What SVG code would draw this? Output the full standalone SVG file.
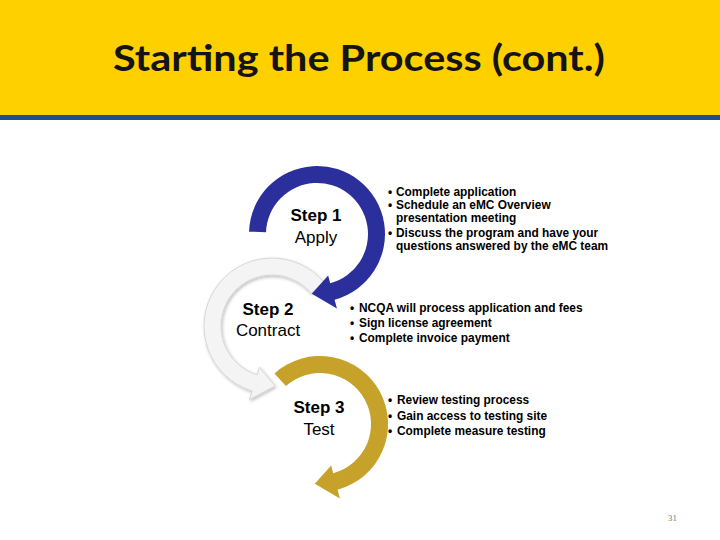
<svg xmlns="http://www.w3.org/2000/svg" width="720" height="540" viewBox="0 0 720 540">
  <style>
    .title { font-family: Lato, "Liberation Sans", sans-serif; font-weight: bold; font-size: 36px; fill: #141414; }
    .stepb { font-family: "Liberation Sans", Arial, sans-serif; font-weight: bold; font-size: 17px; fill: #000; text-anchor: middle; }
    .stepr { font-family: "Liberation Sans", Arial, sans-serif; font-size: 17px; fill: #000; text-anchor: middle; }
    .bul { font-family: "Liberation Sans", Arial, sans-serif; font-weight: bold; font-size: 11.9px; fill: #000; }
    .blue { fill: #2B2F9B; }
    .gold { fill: #C6A22B; }
    .white { fill: #F4F4F4; stroke: #D6D6D6; stroke-width: 1; }
  </style>
  <defs>
    <filter id="sh" x="-20%" y="-20%" width="140%" height="140%">
      <feDropShadow dx="1" dy="1.5" stdDeviation="1.5" flood-color="#000" flood-opacity="0.25"/>
    </filter>
  </defs>
  <rect width="720" height="540" fill="#FFFFFF"/>
  <g id="header">
    <rect x="0" y="0" width="720" height="115" fill="#FED000"/>
    <rect x="0" y="115" width="720" height="5" fill="#1F4E8A"/>
    <text class="title" x="113" y="71" textLength="492" lengthAdjust="spacingAndGlyphs">Starting the Process (cont.)</text>
  </g>
  <g id="connectors"/>
  <g id="step2">
    <path class="white" filter="url(#sh)" d="M324.09,282.29 A68,68 0 1 0 252.12,391.03 L249.49,399.64 L275.14,385.92 L259.43,367.12 L257.09,374.77 A51,51 0 1 1 311.07,293.22 Z"/>
    <text class="stepb" x="268" y="315">Step 2</text>
    <text class="stepr" x="268" y="336">Contract</text>
  </g>
  <g id="step3">
    <path class="gold" d="M274.5,373.5 A68,68 0 1 1 337.6,489.68 L339.93,498.38 L314.77,483.77 L331.13,465.53 L333.2,473.26 A51,51 0 1 0 285.88,386.1 Z"/>
    <text class="stepb" x="319" y="413">Step 3</text>
    <text class="stepr" x="319" y="435">Test</text>
  </g>
  <g id="step1">
    <path class="blue" d="M249.04,231.63 A68,68 0 1 1 334.6,299.68 L336.93,308.38 L311.77,293.77 L328.13,275.53 L330.2,283.26 A51,51 0 1 0 266.03,232.22 Z"/>
    <text class="stepb" x="316" y="221">Step 1</text>
    <text class="stepr" x="316" y="243">Apply</text>
  </g>
  <g id="bullets1">
    <text class="bul" x="388" y="196">•</text><text class="bul" x="396" y="196">Complete application</text>
    <text class="bul" x="388" y="209">•</text><text class="bul" x="396" y="209">Schedule an eMC Overview</text>
    <text class="bul" x="396" y="222">presentation meeting</text>
    <text class="bul" x="388" y="237">•</text><text class="bul" x="396" y="237">Discuss the program and have your</text>
    <text class="bul" x="396" y="250">questions answered by the eMC team</text>
  </g>
  <g id="bullets2">
    <text class="bul" x="350" y="312">•</text><text class="bul" x="359" y="312">NCQA will process application and fees</text>
    <text class="bul" x="350" y="327">•</text><text class="bul" x="359" y="327">Sign license agreement</text>
    <text class="bul" x="350" y="342">•</text><text class="bul" x="359" y="342">Complete invoice payment</text>
  </g>
  <g id="bullets3">
    <text class="bul" x="388" y="404">•</text><text class="bul" x="397" y="404">Review testing process</text>
    <text class="bul" x="388" y="420">•</text><text class="bul" x="397" y="420">Gain access to testing site</text>
    <text class="bul" x="388" y="435">•</text><text class="bul" x="397" y="435">Complete measure testing</text>
  </g>
  <g id="pagenum">
    <text x="668" y="521" font-family="'Liberation Serif', serif" font-size="9" fill="#7A7A7A">31</text>
  </g>
</svg>
